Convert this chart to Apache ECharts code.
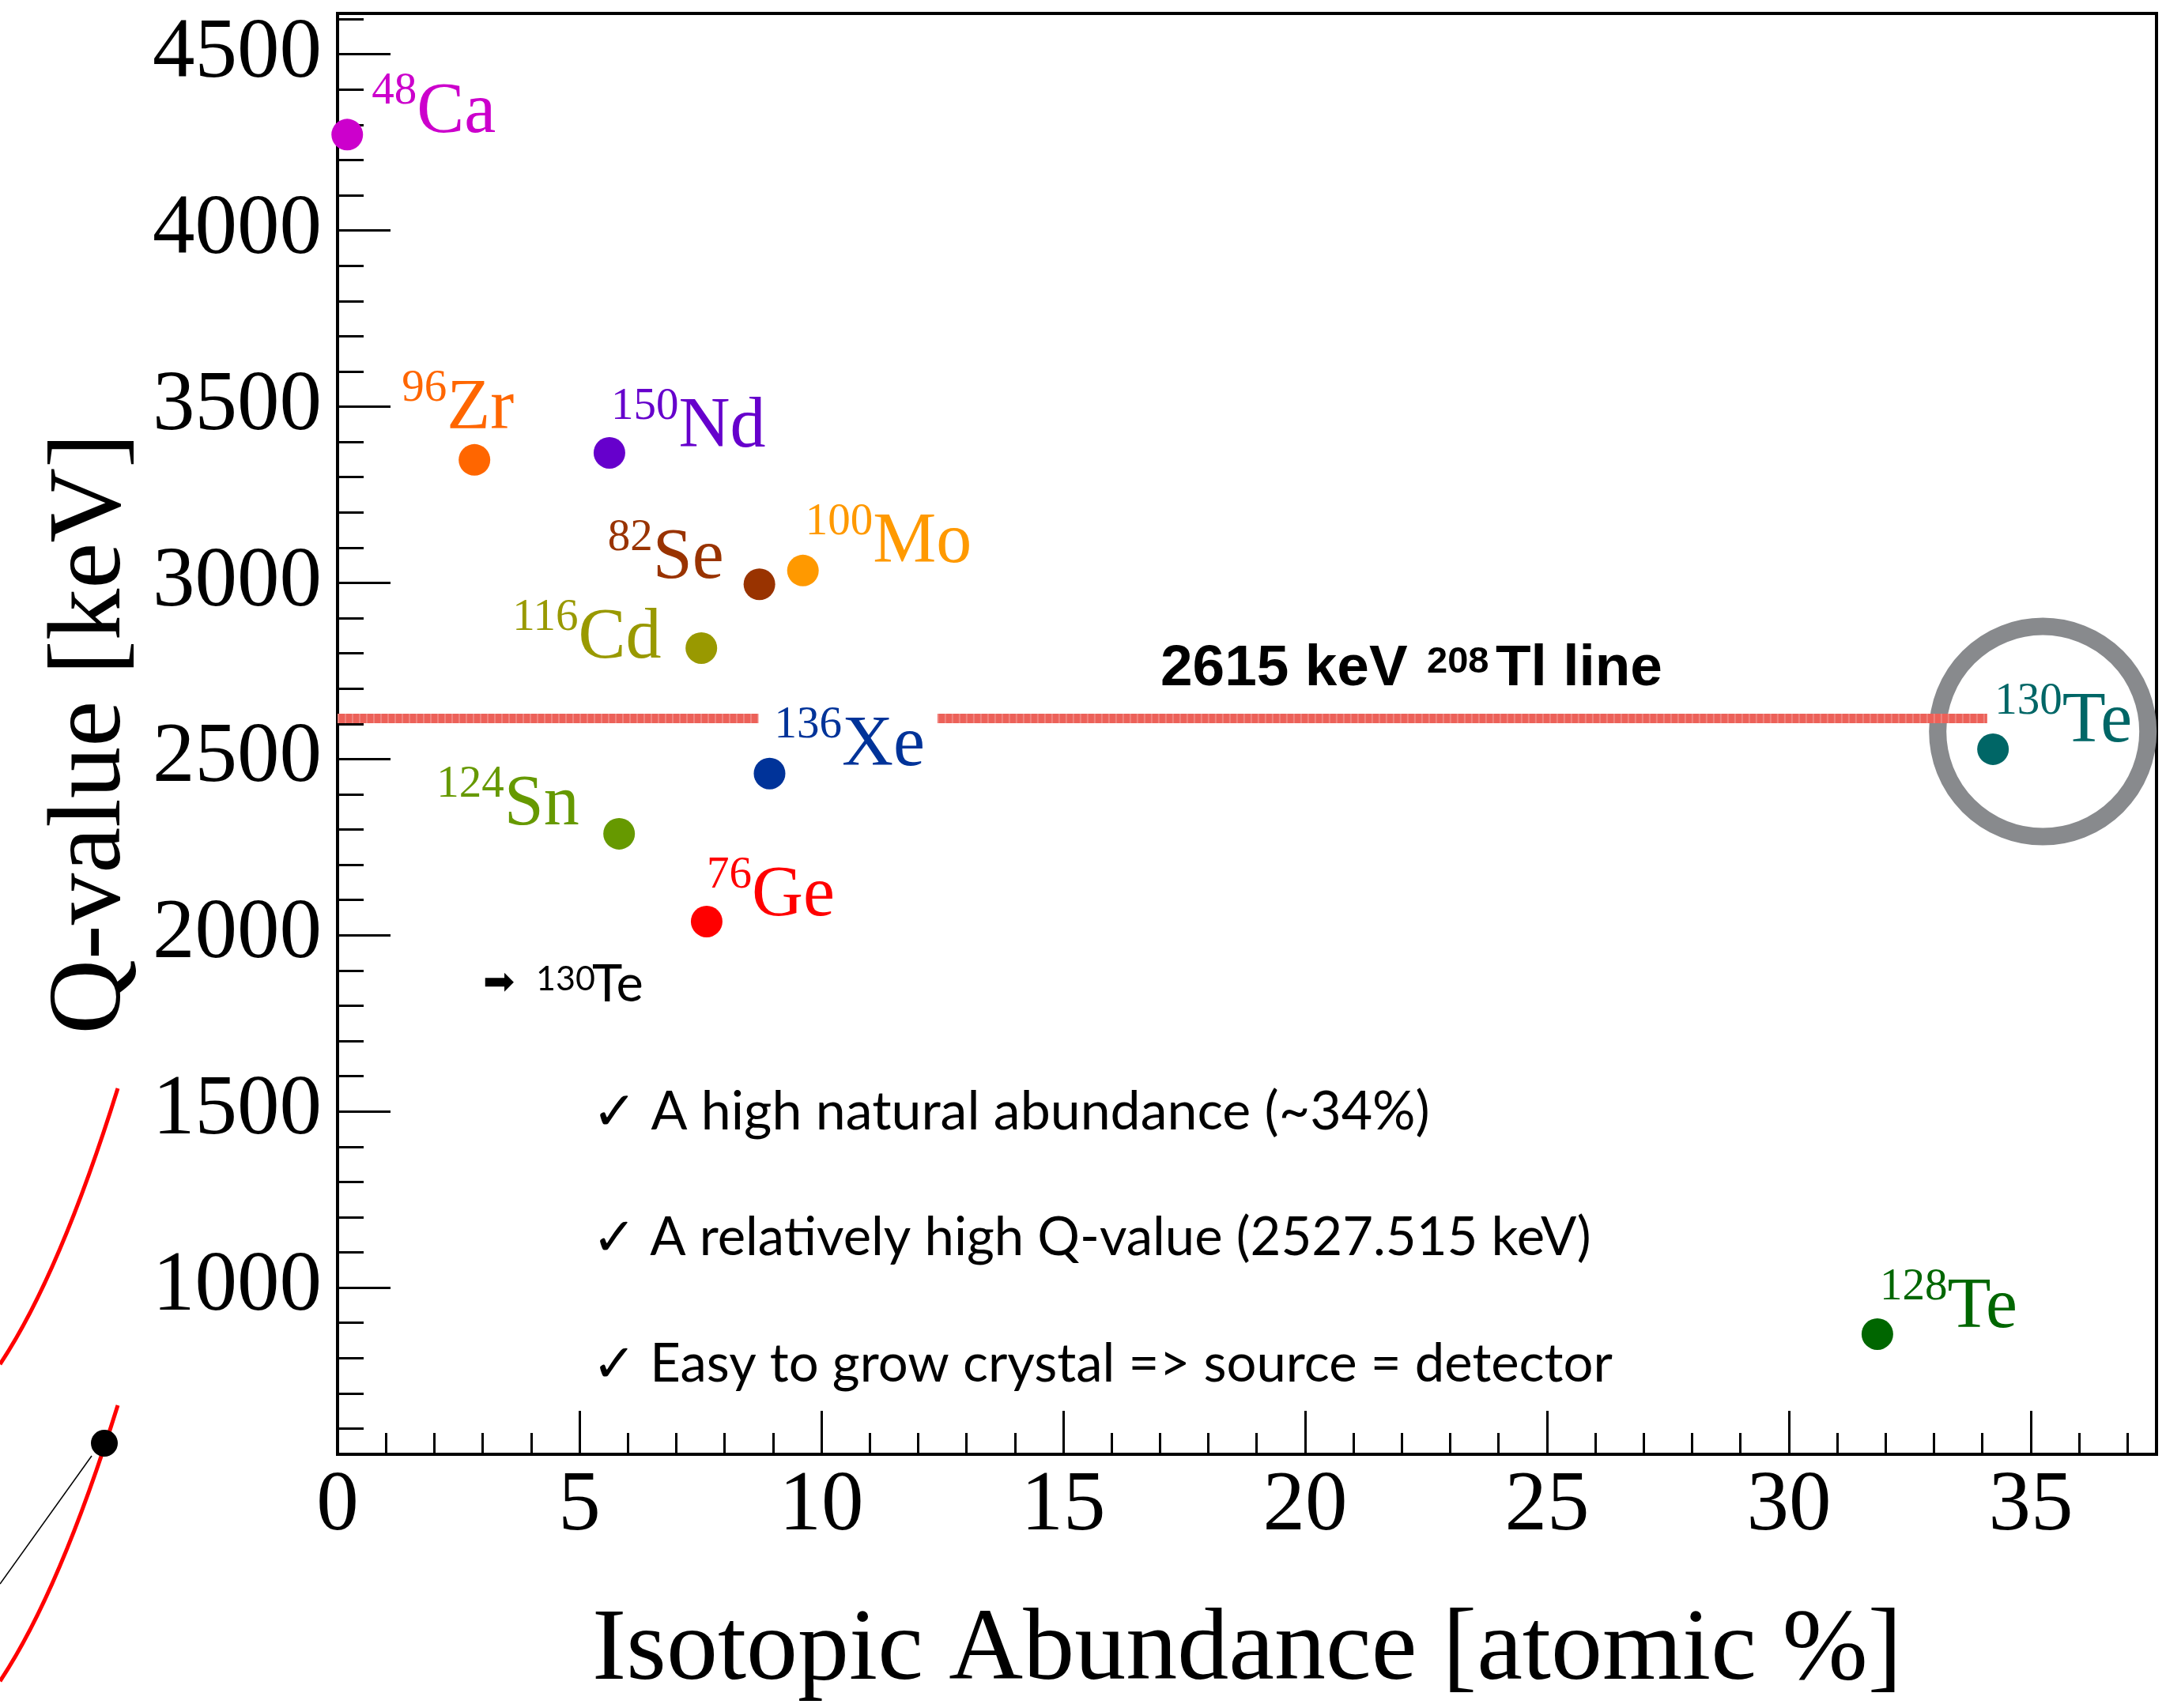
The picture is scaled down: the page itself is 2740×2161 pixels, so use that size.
<!DOCTYPE html>
<html>
<head>
<meta charset="utf-8">
<script src="https://cdn.jsdelivr.net/npm/echarts@6/dist/echarts.min.js"></script>
<style>
  html, body { margin: 0; padding: 0; background: #fff; }
  #chart { width: 2740px; height: 2161px; }
</style>
</head>
<body>
<div id="chart"></div>
<script>
// Double-beta-decay candidates: natural isotopic abundance vs. Q-value
const isotopes    = ['48Ca', '96Zr', '150Nd', '82Se', '100Mo', '116Cd', '136Xe', '124Sn', '76Ge', '130Te', '128Te'];
const massNumbers = ['48', '96', '150', '82', '100', '116', '136', '124', '76', '130', '128'];
const elements    = ['Ca', 'Zr', 'Nd', 'Se', 'Mo', 'Cd', 'Xe', 'Sn', 'Ge', 'Te', 'Te'];
const abundance   = [0.20, 2.83, 5.62, 8.72, 9.62, 7.52, 8.93, 5.82, 7.63, 34.22, 31.83];
const qValue      = [4272, 3349, 3369, 2996, 3035, 2815, 2459, 2288, 2039, 2528, 868];

// Axis ticks
const xTickLabels = [0, 5, 10, 15, 20, 25, 30, 35];
const yTickLabels = [1000, 1500, 2000, 2500, 3000, 3500, 4000, 4500];

// 2615 keV gamma line of 208Tl, drawn in two pieces around the Xe label
const tlLineEnergy = 2615;
const tlLineSegments = [[0, 8.7], [12.4, 34.1]];

// ---- styling -------------------------------------------------------------
const isotopeColors = ['#CC00CC', '#FF6600', '#6600CC', '#993300', '#FF9900', '#999900',
                       '#003399', '#669900', '#FF0000', '#006666', '#006600'];
// label anchor relative to the marker centre: [left of mass number, text baseline]
const labelOffsets = {
  '48Ca': [31, -2], '96Zr': [-92, -38], '150Nd': [2, -6], '82Se': [-192, -6],
  '100Mo': [3, -9], '116Cd': [-239, 14], '136Xe': [6, -9], '124Sn': [-231, -10],
  '76Ge': [0, -6], '130Te': [2, -8], '128Te': [3, -7]
};
const SERIF = '"Liberation Serif", "Times New Roman", serif';
const SANS = '"Liberation Sans", Arial, sans-serif';
const GEO = 'Lato, "Noto Sans", sans-serif';

const X_MIN = 0, X_MAX = 37.6, Y_MIN = 527, Y_MAX = 4616;

const xMinorTicks = [];
for (let v = 1; v <= 37; v++) xMinorTicks.push(v);
const yMinorTicks = [];
for (let v = 600; v <= 4600; v += 100) yMinorTicks.push(v);

const chart = echarts.init(document.getElementById('chart'), null, { renderer: 'canvas' });

function baseAxis(extra) {
  return Object.assign({
    type: 'value',
    splitLine: { show: false },
    axisLine: { show: true, onZero: false, lineStyle: { color: '#000', width: 4 } },
  }, extra);
}

const plainNumber = v => String(v);

const xAxes = [
  baseAxis({
    min: X_MIN, max: X_MAX, position: 'bottom',
    name: 'Isotopic Abundance [atomic %]', nameLocation: 'middle', nameGap: 185,
    nameTextStyle: { fontFamily: SERIF, fontSize: 130, color: '#000' },
    axisTick: { show: true, inside: true, length: 55, customValues: xTickLabels,
                lineStyle: { color: '#000', width: 3 } },
    axisLabel: { show: true, customValues: xTickLabels, margin: 13, formatter: plainNumber,
                 fontFamily: SERIF, fontSize: 107, color: '#000' }
  }),
  baseAxis({
    min: X_MIN, max: X_MAX, position: 'bottom',
    axisLine: { show: false },
    axisTick: { show: true, inside: true, length: 27, customValues: xMinorTicks,
                lineStyle: { color: '#000', width: 3 } },
    axisLabel: { show: false }
  })
];

const yAxes = [
  baseAxis({
    min: Y_MIN, max: Y_MAX, position: 'left',
    name: 'Q-value [keV]', nameLocation: 'middle', nameGap: 244,
    nameTextStyle: { fontFamily: SERIF, fontSize: 131, color: '#000' },
    axisTick: { show: true, inside: true, length: 67, customValues: yTickLabels,
                lineStyle: { color: '#000', width: 3 } },
    axisLabel: { show: true, customValues: yTickLabels, margin: 20, formatter: plainNumber,
                 fontFamily: SERIF, fontSize: 107, color: '#000' }
  }),
  baseAxis({
    min: Y_MIN, max: Y_MAX, position: 'left',
    axisLine: { show: false },
    axisTick: { show: true, inside: true, length: 33, customValues: yMinorTicks,
                lineStyle: { color: '#000', width: 3 } },
    axisLabel: { show: false }
  })
];

// Thallium line pieces: a salmon stroke with a light hatch over it for the rough brush look
const tlSeries = [];
tlLineSegments.forEach(seg => {
  const pts = [[seg[0], tlLineEnergy], [seg[1], tlLineEnergy]];
  tlSeries.push({
    type: 'line', z: 4, showSymbol: false, symbol: 'none', silent: true, clip: false,
    data: pts,
    lineStyle: { color: '#EC6159', width: 12, cap: 'butt', opacity: 1 }
  });
  tlSeries.push({
    type: 'line', z: 4, showSymbol: false, symbol: 'none', silent: true, clip: false,
    data: pts,
    lineStyle: { color: '#ffffff', width: 12, cap: 'butt', type: [2, 7], opacity: 0.22 }
  });
});

// Ring highlighting the 130Te candidate
const highlightIdx = isotopes.indexOf('130Te');
const ringSeries = {
  type: 'scatter', z: 3, silent: true, clip: false,
  symbol: 'circle', symbolSize: 266,
  itemStyle: { color: 'rgba(0,0,0,0)', borderColor: '#888A8D', borderWidth: 22, opacity: 1 },
  data: [[abundance[highlightIdx] + 1.03, qValue[highlightIdx] + 50]]
};

const dotSeries = {
  type: 'scatter', z: 5, clip: false, silent: true,
  symbol: 'circle', symbolSize: 40,
  itemStyle: { opacity: 1 },
  data: isotopes.map((id, i) => {
    const c = isotopeColors[i];
    const off = labelOffsets[id];
    return {
      value: [abundance[i], qValue[i]],
      itemStyle: { color: c, opacity: 1 },
      label: {
        show: true, position: 'right', distance: 0,
        align: 'left', verticalAlign: 'bottom',
        offset: [off[0] - 20, off[1] + 19.6],
        color: c, textBorderWidth: 0,
        formatter: '{m|' + massNumbers[i] + '}{s|' + elements[i] + '}',
        rich: {
          m: { fontFamily: SERIF, fontSize: 57, lineHeight: 22, verticalAlign: 'top',
               color: c, textBorderWidth: 0 },
          s: { fontFamily: SERIF, fontSize: 90, lineHeight: 100, verticalAlign: 'bottom',
               color: c, textBorderWidth: 0 }
        }
      }
    };
  })
};

// Free text: Tl line caption, the 130Te summary and the left-edge sketch
function txt(text, x, y, size, family, weight, color) {
  return {
    type: 'text', silent: true, z: 10,
    style: { text: text, x: x, y: y, fontSize: size, fontFamily: family,
             fontWeight: weight || 'normal', fill: color || '#000',
             align: 'left', verticalAlign: 'middle' }
  };
}

function redCurve(dy) {
  return {
    type: 'bezierCurve', silent: true, z: 10,
    shape: { x1: 149, y1: 1377 + dy, cpx1: 99, cpy1: 1537 + dy,
             cpx2: 50, cpy2: 1651 + dy, x2: 0, y2: 1726 + dy },
    style: { stroke: '#FF0000', lineWidth: 5, fill: null }
  };
}

const graphics = [
  txt('2615 keV', 1468, 847, 73, SANS, 'bold'),
  txt('208', 1805, 838, 47, SANS, 'bold'),
  txt('Tl line', 1892, 847, 73, SANS, 'bold'),

  txt('\u27A1', 611, 1246, 48, '"DejaVu Sans", sans-serif'),
  txt('130', 678, 1239, 43, GEO, 'normal'),
  txt('Te', 749, 1246, 65, GEO, 'normal'),

  txt('\u2713 A high natural abundance (~34%)', 749, 1407, 68, GEO),
  txt('\u2713 A relatively high Q-value (2527.515 keV)', 749, 1566, 67, GEO),
  txt('\u2713 Easy to grow crystal => source = detector', 749, 1726, 67, GEO),

  redCurve(0),
  redCurve(401),
  { type: 'line', silent: true, z: 10,
    shape: { x1: 116, y1: 1842, x2: 0, y2: 2004 },
    style: { stroke: '#000', lineWidth: 1.5 } },
  { type: 'circle', silent: true, z: 11,
    shape: { cx: 132, cy: 1826, r: 17 },
    style: { fill: '#000' } }
];

chart.setOption({
  animation: false,
  backgroundColor: '#fff',
  grid: { left: 427, right: 12, top: 17, bottom: 321, containLabel: false,
          show: true, borderColor: '#000', borderWidth: 4, backgroundColor: 'transparent' },
  xAxis: xAxes,
  yAxis: yAxes,
  series: [...tlSeries, ringSeries, dotSeries],
  graphic: graphics
});
</script>
</body>
</html>
